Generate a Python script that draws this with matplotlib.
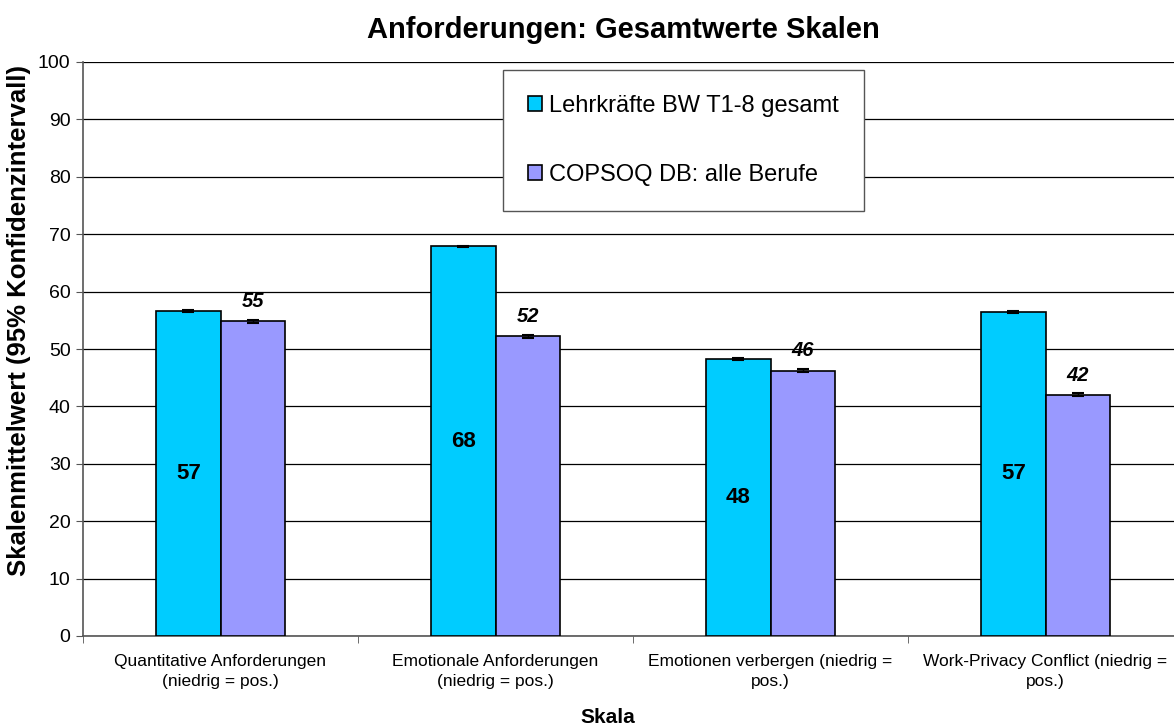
import matplotlib.pyplot as plt
import numpy as np

plt.rcParams['font.family'] = ['Liberation Sans', 'DejaVu Sans']

kategorien = ["Quantitative Anforderungen\n(niedrig = pos.)",
              "Emotionale Anforderungen\n(niedrig = pos.)",
              "Emotionen verbergen (niedrig =\npos.)",
              "Work-Privacy Conflict (niedrig =\npos.)"]
lehrkraefte = [56.6, 67.9, 48.3, 56.5]
lehrkraefte_err = [0.15, 0.12, 0.15, 0.15]
copsoq = [54.8, 52.2, 46.2, 42.0]
copsoq_err = [0.25, 0.22, 0.25, 0.25]
label_lehr = ["57", "68", "48", "57"]
label_cop = ["55", "52", "46", "42"]

fig = plt.figure(figsize=(11.74, 7.26), dpi=100)
ax = fig.add_axes([83/1174, 90/726, 1100/1174, 574/726])

x = np.arange(len(kategorien))
w = 0.234
ax.bar(x - w/2, lehrkraefte, w, color="#00ccff", edgecolor="black", linewidth=1.2,
       yerr=lehrkraefte_err, capsize=4, error_kw=dict(elinewidth=1, capthick=1.5),
       label="Lehrkräfte BW T1-8 gesamt", zorder=3)
ax.bar(x + w/2, copsoq, w, color="#9999ff", edgecolor="black", linewidth=1.2,
       yerr=copsoq_err, capsize=4, error_kw=dict(elinewidth=1, capthick=1.5),
       label="COPSOQ DB: alle Berufe", zorder=3)

for i in range(len(x)):
    ax.text(x[i] - w/2, lehrkraefte[i]/2, label_lehr[i], ha="center", va="center",
            fontsize=16, fontweight="bold", zorder=4)
    ax.text(x[i] + w/2, copsoq[i] + 1.8, label_cop[i], ha="center", va="bottom",
            fontsize=14.5, fontweight="bold", style="italic", zorder=4)

ax.set_ylim(0, 100)
ax.set_xlim(-0.5, 3.5)
ax.set_yticks(np.arange(0, 101, 10))
ax.yaxis.grid(True, color="black", linewidth=0.9, zorder=0)
ax.set_axisbelow(True)

ax.set_xticks(x)
ax.set_xticklabels(kategorien, fontsize=12.5, linespacing=1.45)
ax.tick_params(axis="x", length=0, pad=13)
ax.set_xticks(np.arange(-0.5, 3.6, 1), minor=True)
ax.tick_params(axis="x", which="minor", length=5, color="#555555")
ax.tick_params(axis="y", length=5, color="#555555", labelsize=14, pad=4)

for s in ["top", "right"]:
    ax.spines[s].set_visible(False)
for s in ["left", "bottom"]:
    ax.spines[s].set_color("#555555")
    ax.spines[s].set_linewidth(1.2)

ax.set_ylabel("Skalenmittelwert (95% Konfidenzintervall)", fontsize=18.5, fontweight="bold")
ax.yaxis.set_label_coords(31/1174, 1 - 321/726, transform=fig.transFigure)
ax.set_xlabel("Skala", fontsize=15, fontweight="bold")
ax.xaxis.set_label_coords(608/1174, 1 - 708/726, transform=fig.transFigure)
fig.text(623/1174, 1 - 30/726, "Anforderungen: Gesamtwerte Skalen", ha="center", va="center",
         fontsize=21, fontweight="bold")

leg = ax.legend(loc="upper left", bbox_to_anchor=(503/1174, 1 - 70/726),
                bbox_transform=fig.transFigure, fontsize=17, frameon=True,
                fancybox=False, edgecolor="#555555", framealpha=1,
                handlelength=0.6, handleheight=0.6, handletextpad=0.3,
                labelspacing=2.0, borderpad=1.05, borderaxespad=0)
leg.get_frame().set_linewidth(1.0)

fig.savefig("out.png", dpi=100)
